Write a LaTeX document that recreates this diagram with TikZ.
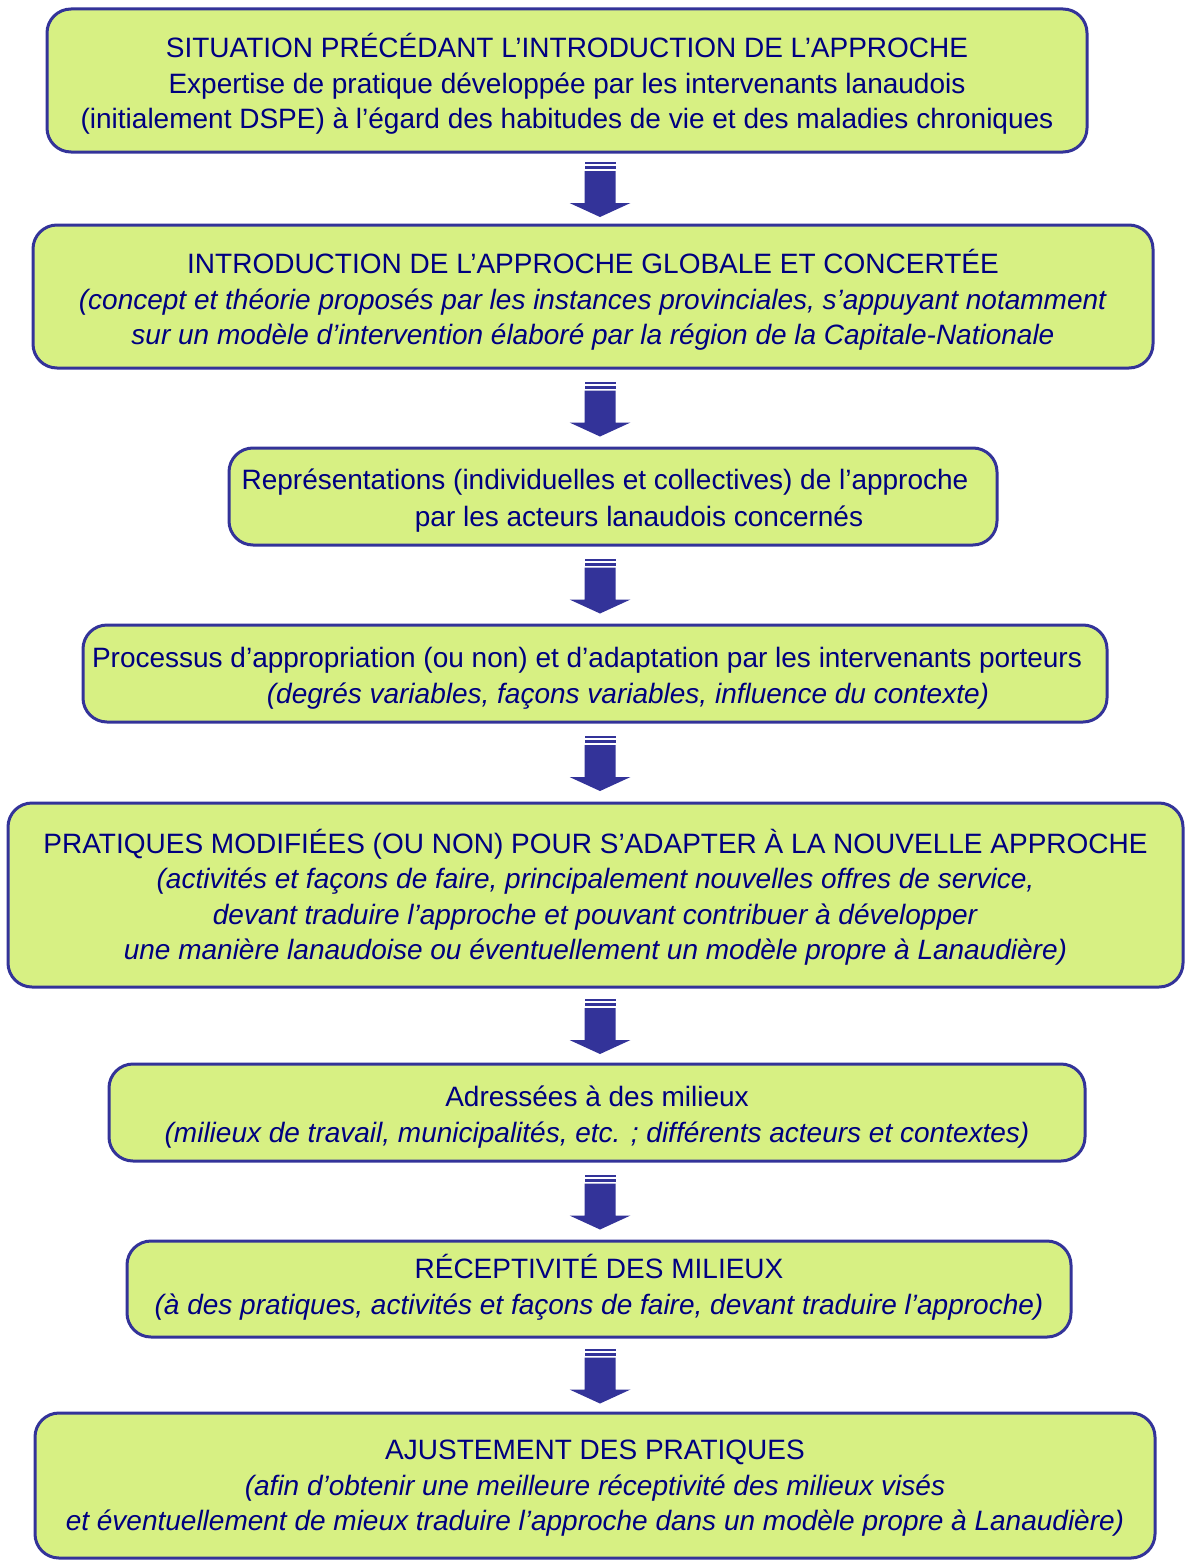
\documentclass[tikz,border=0pt]{standalone}
\usepackage{fontspec}
\setmainfont{Liberation Sans}
\usetikzlibrary{calc, positioning}
\definecolor{boxfill}{RGB}{215,240,131}
\definecolor{boxline}{RGB}{51,51,153}
\definecolor{boxtext}{RGB}{0,0,128}
\tikzset{
    stagebox/.style={draw=boxline, fill=boxfill, line width=3pt, rounded corners=24pt,
      inner sep=0pt},
    stagetext/.style={align=center, text=boxtext, inner sep=0pt,
      font=\fontsize{28}{35.5}\selectfont},
    downarrow/.pic={
      \fill[boxline] (-15.5,-26.5) rectangle (15.5,-24.5);
      \fill[boxline] (-15.5,-22.5) rectangle (15.5,-19.5);
      \fill[boxline] (-15.5,-17.5) -- (15.5,-17.5) -- (15.5,14.5) -- (30.5,14.5)
        -- (0,28.5) -- (-30.5,14.5) -- (-15.5,14.5) -- cycle;
    },
}

\begin{document}
\begin{tikzpicture}[x=1pt, y=-1pt]
    \useasboundingbox (0,0) rectangle (1185,1560);
    \coordinate (ax) at (600,0);

    \node[stagebox, minimum width=1040pt, minimum height=143pt] (s0) at (567,80.5) {};
    \node[stagebox, minimum width=1120pt, minimum height=143pt] (s1) at (593,296.5) {};
    \node[stagebox, minimum width=768pt, minimum height=97pt] (s2) at (613,496.5) {};
    \node[stagebox, minimum width=1024pt, minimum height=97pt] (s3) at (595,673.5) {};
    \node[stagebox, minimum width=1175pt, minimum height=184pt] (s4) at (595.5,895) {};
    \node[stagebox, minimum width=976pt, minimum height=97pt] (s5) at (597,1112.5) {};
    \node[stagebox, minimum width=944pt, minimum height=96pt] (s6) at (599,1289) {};
    \node[stagebox, minimum width=1120pt, minimum height=145pt] (s7) at (595,1485.5) {};

    \node[stagetext] (t0) at ($(s0.center)+(0,3.5)$)
      {SITUATION PRÉCÉDANT L’INTRODUCTION DE L’APPROCHE\\
       Expertise de pratique développée par les intervenants lanaudois\\
       (initialement DSPE) à l’égard des habitudes de vie et des maladies chroniques};
    \node[stagetext] (t1) at ($(s1.center)+(0,3.5)$)
      {INTRODUCTION DE L’APPROCHE GLOBALE ET CONCERTÉE\\
       \textit{(concept et théorie proposés par les instances provinciales, s’appuyant notamment}\\
       \textit{sur un modèle d’intervention élaboré par la région de la Capitale-Nationale}};
    \node[stagetext, font=\fontsize{28}{37}\selectfont] (t2) at ($(s2.center)+(0,4)$)
      {Représentations (individuelles et collectives) de l’approche\hspace*{16pt}\\
       \hspace*{52pt}par les acteurs lanaudois concernés};
    \node[stagetext] (t3) at ($(s3.center)+(0,5)$)
      {Processus d’appropriation (ou non) et d’adaptation par les intervenants porteurs\hspace*{16pt}\\
       \hspace*{66pt}\textit{(degrés variables, façons variables, influence du contexte)}};
    \node[stagetext] (t4) at ($(s4.center)+(0,2.5)$)
      {PRATIQUES MODIFIÉES (OU NON) POUR S’ADAPTER À LA NOUVELLE APPROCHE\\
       \textit{(activités et façons de faire, principalement nouvelles offres de service,}\\
       \textit{devant traduire l’approche et pouvant contribuer à développer}\\
       \textit{une manière lanaudoise ou éventuellement un modèle propre à Lanaudière)}};
    \node[stagetext] (t5) at ($(s5.center)+(0,4.5)$)
      {Adressées à des milieux\\
       \textit{(milieux de travail, municipalités, etc. ; différents acteurs et contextes)}};
    \node[stagetext] (t6) at ($(s6.center)+(0,-2)$)
      {RÉCEPTIVITÉ DES MILIEUX\\
       \textit{(à des pratiques, activités et façons de faire, devant traduire l’approche)}};
    \node[stagetext] (t7) at ($(s7.center)+(0,3)$)
      {AJUSTEMENT DES PRATIQUES\\
       \textit{(afin d’obtenir une meilleure réceptivité des milieux visés}\\
       \textit{et éventuellement de mieux traduire l’approche dans un modèle propre à Lanaudière)}};

    \foreach \a/\b in {s0/s1, s1/s2, s2/s3, s3/s4, s4/s5, s5/s6, s6/s7}
      \path ($(\a.south)!.5!(\b.north)$) coordinate (m) (m -| ax) pic {downarrow};
\end{tikzpicture}
\end{document}
